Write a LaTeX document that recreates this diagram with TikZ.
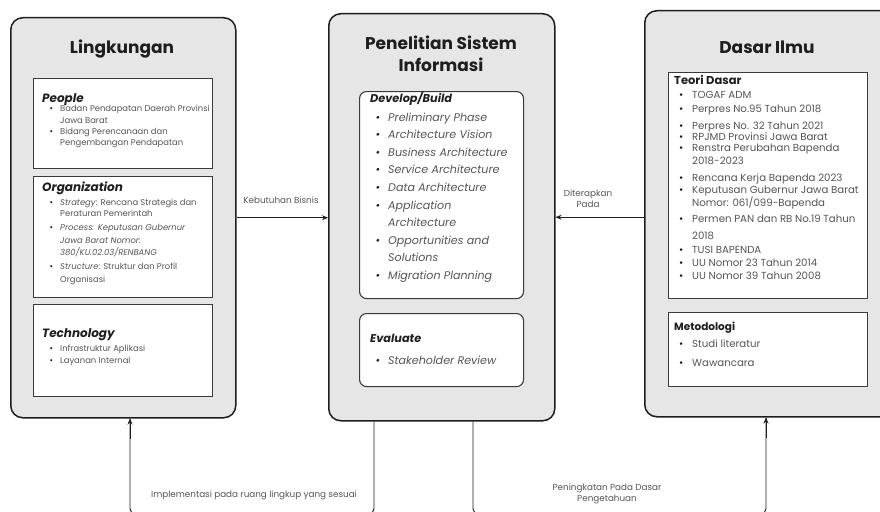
\documentclass[tikz,border=0pt]{standalone}
\usepackage{fontspec}
\setmainfont{Poppins}
\usetikzlibrary{arrows.meta}
\definecolor{outerfill}{HTML}{E6E6E6}
\definecolor{edge}{HTML}{1E1E1E}
\definecolor{innerc}{HTML}{3A3A3A}
\definecolor{body}{HTML}{555555}
\newcommand\bu[1]{\llap{{\color{edge}\textbullet}\hspace{#1}}}
\begin{document}
\begin{tikzpicture}[x=1pt,y=-1pt,
  outer/.style={draw=edge, line width=1.5pt, fill=outerfill, rounded corners=12pt, anchor=north west, inner sep=0pt},
  inner/.style={draw=innerc, line width=1.1pt, fill=white, anchor=north west, inner sep=0pt},
  innerr/.style={inner, rounded corners=7pt},
  title/.style={anchor=base, inner sep=0pt, text=edge, font=\fontsize{17}{20}\selectfont\bfseries},
  hdl/.style={anchor=base west, inner sep=0pt, text=edge, font=\fontsize{12}{14}\selectfont\bfseries\itshape},
  hdc/.style={anchor=base west, inner sep=0pt, text=edge, font=\fontsize{11.3}{12}\selectfont\bfseries\itshape},
  hdr/.style={anchor=base west, inner sep=0pt, text=edge, font=\fontsize{11.5}{13}\selectfont\bfseries},
  lnl/.style={anchor=base west, inner sep=0pt, text=body, font=\fontsize{8.4}{9}\selectfont},
  lnc/.style={anchor=base west, inner sep=0pt, text=body, font=\fontsize{11.1}{12}\selectfont\itshape},
  lnr/.style={anchor=base west, inner sep=0pt, text=body, font=\fontsize{10.2}{11}\selectfont},
  lab/.style={inner sep=0pt, text=body, font=\fontsize{8.8}{11}\selectfont, align=center},
  arr/.style={draw=edge, line width=0.9pt, -{Stealth[length=6pt,width=5pt]}},
  con/.style={draw=edge, line width=0.9pt, rounded corners=6pt}
]
\useasboundingbox (0,0) rectangle (880,511);
\clip (0,0) rectangle (880,511);
\fill[white] (0,0) rectangle (880,511);

% outer boxes
\node[outer, minimum width=225pt, minimum height=400pt] (L) at (10,17) {};
\node[outer, minimum width=226pt, minimum height=407pt] (C) at (328,13) {};
\node[outer, minimum width=260pt, minimum height=406pt] (R) at (644,10) {};

% titles
\node[title] (tL) at (122,53) {Lingkungan};
\node[title] (tC1) at (441,50) {Penelitian Sistem};
\node[title] (tC2) at (441,71) {Informasi};
\node[title] (tR) at (767,53) {Dasar Ilmu};

% left inner boxes
\node[inner, minimum width=179pt, minimum height=90pt] (pb) at (33,78) {};
\node[inner, minimum width=179pt, minimum height=121pt] (ob) at (33,176) {};
\node[inner, minimum width=179pt, minimum height=92pt] (tb) at (33,304) {};

\node[hdl] (ph) at (42,102) {People};
\node[lnl] (p1) at (60,111) {\bu{7pt}Badan Pendapatan Daerah Provinsi};
\node[lnl] (p2) at (60,123) {Jawa Barat};
\node[lnl] (p3) at (60,134) {\bu{7pt}Bidang Perencanaan dan};
\node[lnl] (p4) at (60,145) {Pengembangan Pendapatan};

\node[hdl] (oh) at (42,191) {Organization};
\node[lnl] (o1) at (60,205) {\bu{7pt}\textit{Strategy}: Rencana Strategis dan};
\node[lnl] (o2) at (60,216.5) {Peraturan Pemerintah};
\node[lnl] (o3) at (60,230) {\bu{7pt}\textit{Process: Keputusan Gubernur}};
\node[lnl] (o4) at (60,243) {\textit{Jawa Barat Nomor:}};
\node[lnl] (o5) at (60,255.5) {\textit{380/KU.02.03/RENBANG}};
\node[lnl] (o6) at (60,269) {\bu{7pt}\textit{Structure}: Struktur dan Profil};
\node[lnl] (o7) at (60,282) {Organisasi};

\node[hdl] (th) at (42,337) {Technology};
\node[lnl] (t1) at (60,351) {\bu{7pt}Infrastruktur Aplikasi};
\node[lnl] (t2) at (60,363) {\bu{7pt}Layanan Internal};

% center inner boxes
\node[innerr, minimum width=164pt, minimum height=207pt] (db) at (359,91) {};
\node[innerr, minimum width=164pt, minimum height=73pt] (eb) at (359,313) {};

\node[hdc] (dh) at (370,102) {Develop/Build};
\node[lnc] (d1) at (388,121) {\bu{8pt}Preliminary Phase};
\node[lnc] (d2) at (388,138.6) {\bu{8pt}Architecture Vision};
\node[lnc] (d3) at (388,156.2) {\bu{8pt}Business Architecture};
\node[lnc] (d4) at (388,173.8) {\bu{8pt}Service Architecture};
\node[lnc] (d5) at (388,191.4) {\bu{8pt}Data Architecture};
\node[lnc] (d6) at (388,209) {\bu{8pt}Application};
\node[lnc] (d7) at (388,226.6) {Architecture};
\node[lnc] (d8) at (388,244.2) {\bu{8pt}Opportunities and};
\node[lnc] (d9) at (388,261.8) {Solutions};
\node[lnc] (d10) at (388,279.4) {\bu{8pt}Migration Planning};

\node[hdc] (eh) at (370,342) {Evaluate};
\node[lnc] (e1) at (388,364) {\bu{8pt}Stakeholder Review};

% right inner boxes
\node[inner, minimum width=199pt, minimum height=226pt] (rb) at (668,72) {};
\node[inner, minimum width=199pt, minimum height=74pt] (mb) at (668,312) {};

\node[hdr] (rh) at (674,84) {Teori Dasar};
\node[lnr] (r1) at (692,98.5) {\bu{9pt}TOGAF ADM};
\node[lnr] (r2) at (692,112.5) {\bu{9pt}Perpres No.95 Tahun 2018};
\node[lnr] (r3) at (692,129) {\bu{9pt}Perpres No. 32 Tahun 2021};
\node[lnr] (r4) at (692,140.5) {\bu{9pt}RPJMD Provinsi Jawa Barat};
\node[lnr] (r5) at (692,151.5) {\bu{9pt}Renstra Perubahan Bapenda};
\node[lnr] (r6) at (692,164.5) {2018-2023};
\node[lnr] (r7) at (692,181) {\bu{9pt}Rencana Kerja Bapenda 2023};
\node[lnr] (r8) at (692,193.5) {\bu{9pt}Keputusan Gubernur Jawa Barat};
\node[lnr] (r9) at (692,206.5) {Nomor: 061/099-Bapenda};
\node[lnr] (r10) at (692,222.5) {\bu{9pt}Permen PAN dan RB No.19 Tahun};
\node[lnr] (r11) at (692,239) {2018};
\node[lnr] (r12) at (692,253.5) {\bu{9pt}TUSI BAPENDA};
\node[lnr] (r13) at (692,266.5) {\bu{9pt}UU Nomor 23 Tahun 2014};
\node[lnr] (r14) at (692,279.5) {\bu{9pt}UU Nomor 39 Tahun 2008};

\node[hdr, font=\fontsize{10.5}{12}\selectfont\bfseries] (mh) at (674,330) {Metodologi};
\node[lnr] (m1) at (692,347.5) {\bu{9pt}Studi literatur};
\node[lnr] (m2) at (692,366.5) {\bu{9pt}Wawancara};

% connectors
\draw[arr] (L.east) -- (L.east -| C.west);
\draw[arr] (R.west |- C.east) -- (C.east);
\node[lab] (k) at (281,200) {Kebutuhan Bisnis};
\node[lab] (dp) at (588,199) {Diterapkan\\Pada};

\coordinate (xa) at (374,0);
\coordinate (xb) at (130,0);
\coordinate (xc) at (473,0);
\coordinate (xd) at (766,0);
\coordinate (yb) at (0,514);
\draw[con] (C.south -| xa) -- (xa |- yb) -- (xb |- yb) -- (xb |- L.south);
\draw[arr] ([yshift=-20pt]xb |- L.south) -- (xb |- L.south);
\draw[con] (C.south -| xc) -- (xc |- yb) -- (xd |- yb) -- (xd |- R.south);
\draw[arr] ([yshift=-20pt]xd |- R.south) -- (xd |- R.south);
\node[lab] (im) at (254,495) {Implementasi pada ruang lingkup yang sesuai};
\node[lab] (pk) at (607,494) {Peningkatan Pada Dasar\\Pengetahuan};
\end{tikzpicture}
\end{document}
